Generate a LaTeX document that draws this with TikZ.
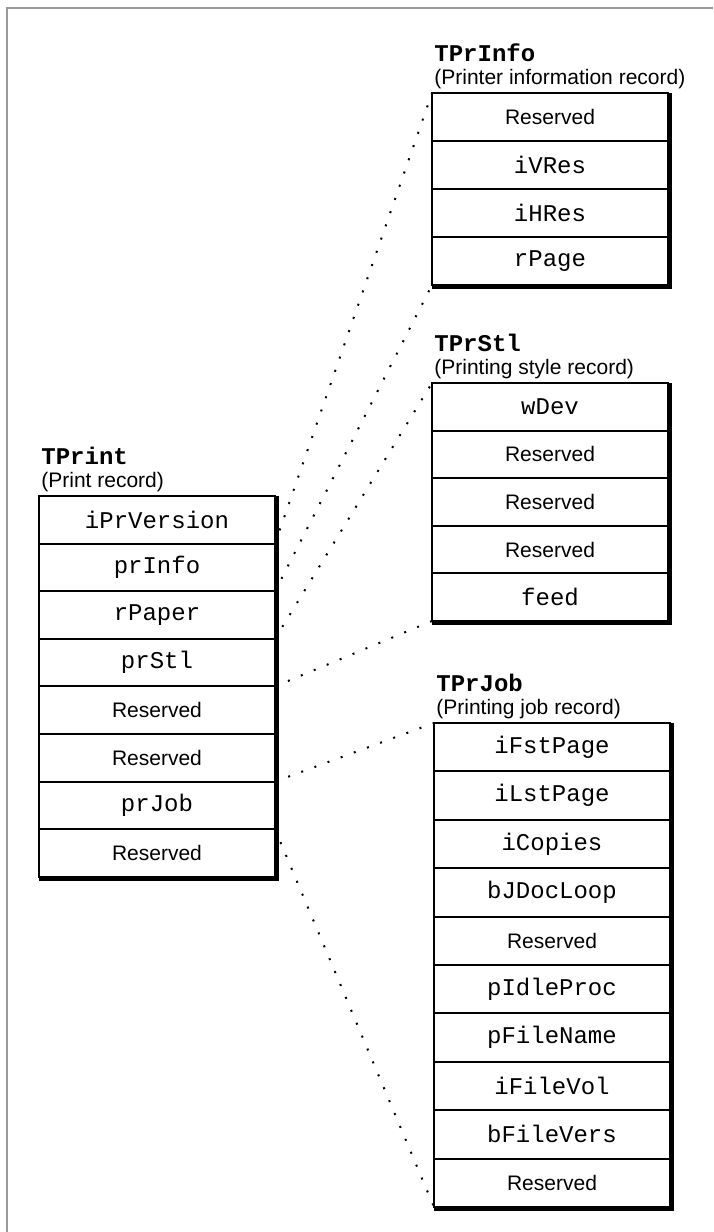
\documentclass[tikz,border=0pt]{standalone}
\usepackage{fontspec}
\setmainfont{Liberation Sans}
\newfontfamily\mono{Liberation Mono}
\usetikzlibrary{positioning}
\definecolor{frame}{HTML}{9A9A9A}

\begin{document}
\begin{tikzpicture}[
    x=0.5pt, y=-0.5pt,
    field/.style={
        draw,
        line width=1pt,
        minimum width=118pt,
        minimum height=24pt,
        inner sep=0pt,
        outer sep=0pt,
        font=\mono\fontsize{12}{14}\selectfont
    },
    resv/.style={field, font=\fontsize{10.5}{12}\selectfont},
    header/.style={
        align=left,
        inner sep=0pt,
        font=\fontsize{10.5}{11.5}\selectfont
    },
    shadow/.style={line width=2pt},
    link/.style={line width=1pt, dash pattern=on 1pt off 6pt}
]
\useasboundingbox (0,0) rectangle (713,1232);

% Frame
\draw[frame, line width=1pt] (7,1232) -- (7,8) -- (713,8);

% TPrint
\node[field, anchor=north west, minimum height=23.8pt] (P1) at (39,496) {iPrVersion};
\node[field, below=0pt of P1, minimum height=23.8pt] (P2) {prInfo};
\node[field, below=0pt of P2, minimum height=23.8pt] (P3) {rPaper};
\node[field, below=0pt of P3, minimum height=23.8pt] (P4) {prStl};
\node[resv, below=0pt of P4, minimum height=23.8pt] (P5) {Reserved};
\node[resv, below=0pt of P5, minimum height=23.8pt] (P6) {Reserved};
\node[field, below=0pt of P6, minimum height=23.8pt] (P7) {prJob};
\node[resv, below=0pt of P7, minimum height=23.8pt] (P8) {Reserved};
\node[header, above right=2pt and 1pt of P1.north west] (PH) {{\mono\bfseries\fontsize{12}{12}\selectfont TPrint}\\(Print record)};

% TPrInfo
\node[resv, anchor=north west] (I1) at (432,93) {Reserved};
\node[field, below=0pt of I1] (I2) {iVRes};
\node[field, below=0pt of I2] (I3) {iHRes};
\node[field, below=0pt of I3] (I4) {rPage};
\node[header, above right=2pt and 1pt of I1.north west] (IH) {{\mono\bfseries\fontsize{12}{12}\selectfont TPrInfo}\\(Printer information record)};

% TPrStl
\node[field, anchor=north west, minimum height=23.8pt] (S1) at (432,383) {wDev};
\node[resv, below=0pt of S1, minimum height=23.8pt] (S2) {Reserved};
\node[resv, below=0pt of S2, minimum height=23.8pt] (S3) {Reserved};
\node[resv, below=0pt of S3, minimum height=23.8pt] (S4) {Reserved};
\node[field, below=0pt of S4, minimum height=23.8pt] (S5) {feed};
\node[header, above right=2pt and 1pt of S1.north west] (SH) {{\mono\bfseries\fontsize{12}{12}\selectfont TPrStl}\\(Printing style record)};

% TPrJob
\node[field, anchor=north west, minimum height=24.2pt] (J1) at (434,723) {iFstPage};
\node[field, below=0pt of J1, minimum height=24.2pt] (J2) {iLstPage};
\node[field, below=0pt of J2, minimum height=24.2pt] (J3) {iCopies};
\node[field, below=0pt of J3, minimum height=24.2pt] (J4) {bJDocLoop};
\node[resv, below=0pt of J4, minimum height=24.2pt] (J5) {Reserved};
\node[field, below=0pt of J5, minimum height=24.2pt] (J6) {pIdleProc};
\node[field, below=0pt of J6, minimum height=24.2pt] (J7) {pFileName};
\node[field, below=0pt of J7, minimum height=24.2pt] (J8) {iFileVol};
\node[field, below=0pt of J8, minimum height=24.2pt] (J9) {bFileVers};
\node[resv, below=0pt of J9, minimum height=24.2pt] (J10) {Reserved};
\node[header, above right=2pt and 1pt of J1.north west] (JH) {{\mono\bfseries\fontsize{12}{12}\selectfont TPrJob}\\(Printing job record)};

% Shadows
\draw[shadow] ([xshift=1pt]P1.north east) -- ([xshift=1pt,yshift=-1pt]P8.south east) -- ([yshift=-1pt]P8.south west);
\draw[shadow] ([xshift=1pt]I1.north east) -- ([xshift=1pt,yshift=-1pt]I4.south east) -- ([yshift=-1pt]I4.south west);
\draw[shadow] ([xshift=1pt]S1.north east) -- ([xshift=1pt,yshift=-1pt]S5.south east) -- ([yshift=-1pt]S5.south west);
\draw[shadow] ([xshift=1pt]J1.north east) -- ([xshift=1pt,yshift=-1pt]J10.south east) -- ([yshift=-1pt]J10.south west);

% Links
\draw[link] (P2.north east) -- (I1.north west);
\draw[link] (P2.south east) -- (I4.south west);
\draw[link] (P4.north east) -- (S1.north west);
\draw[link] (P4.south east) -- (S5.south west);
\draw[link] (P7.north east) -- (J1.north west);
\draw[link] (P7.south east) -- (J10.south west);

\end{tikzpicture}
\end{document}
